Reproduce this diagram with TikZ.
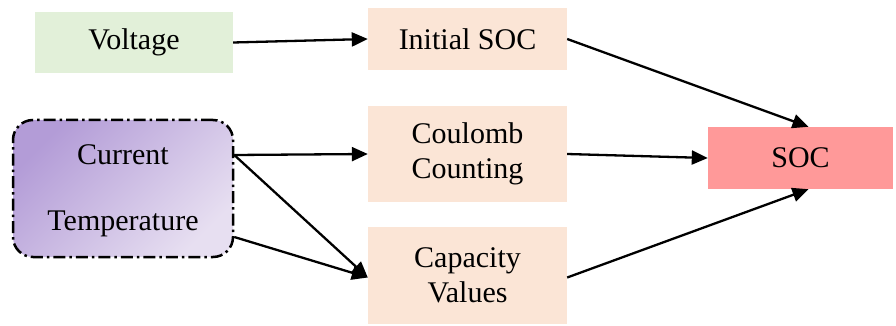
\documentclass[tikz,border=0pt]{standalone}
\usepackage{fontspec}
\setmainfont{Liberation Serif}
\usetikzlibrary{arrows.meta}
\definecolor{greenbox}{HTML}{E2F0D9}
\definecolor{peachbox}{HTML}{FBE5D6}
\definecolor{socbox}{HTML}{FF9999}
\definecolor{purpledark}{HTML}{B39CD7}
\definecolor{purplelight}{HTML}{E7DFF1}
\tikzset{
  every node/.style={font=\fontsize{30}{36}\selectfont, inner sep=0pt, align=center},
  plainbox/.style={rectangle, minimum width=199pt, minimum height=62pt},
  arrowline/.style={line width=2.3pt, -{Triangle[length=16pt, width=14pt]}}
}
\begin{document}
\begin{tikzpicture}[x=1pt, y=-1pt]
\useasboundingbox (0,0) rectangle (896,326);

% input boxes
\node[plainbox, fill=greenbox, minimum width=198pt, minimum height=61pt] (V) at (134,42.5) {Voltage};
\node[rectangle, rounded corners=20pt, draw=black, line width=2.5pt,
      dash pattern=on 12pt off 4pt on 2.5pt off 4pt,
      top color=purpledark, bottom color=purplelight, shading angle=45,
      minimum width=220pt, minimum height=137pt] (CT) at (123,188.5) {};
\node (cur) at (123,155) {Current};
\node (tmp) at (123,224) {Temperature};

% processing boxes
\node[plainbox, fill=peachbox] (I) at (467.5,39) {Initial SOC};
\node[plainbox, fill=peachbox, minimum height=96pt] (C) at (467.5,154) {Coulomb\\[-1pt]Counting};
\node[plainbox, fill=peachbox, minimum height=97pt] (K) at (467.5,275.5) {Capacity\\[-1pt]Values};

% output box
\node[plainbox, fill=socbox, minimum width=185pt] (S) at (800.5,158) {SOC};

% exit points on the input box
\coordinate (cOut) at ([yshift=33.5pt]CT.east);
\coordinate (tOut) at ([yshift=-48.5pt]CT.east);

% connectors
\draw[arrowline] (V.east) -- (I.west);
\draw[arrowline] (cOut) -- (C.west);
\draw[arrowline] (cOut) -- ([yshift=-2pt]K.west);
\draw[arrowline] (tOut) -- ([yshift=-2pt]K.west);
\draw[arrowline] (I.east) -- ([xshift=8pt]S.north);
\draw[arrowline] (C.east) -- (S.west);
\draw[arrowline] ([yshift=-2pt]K.east) -- ([xshift=8pt]S.south);
\end{tikzpicture}
\end{document}
